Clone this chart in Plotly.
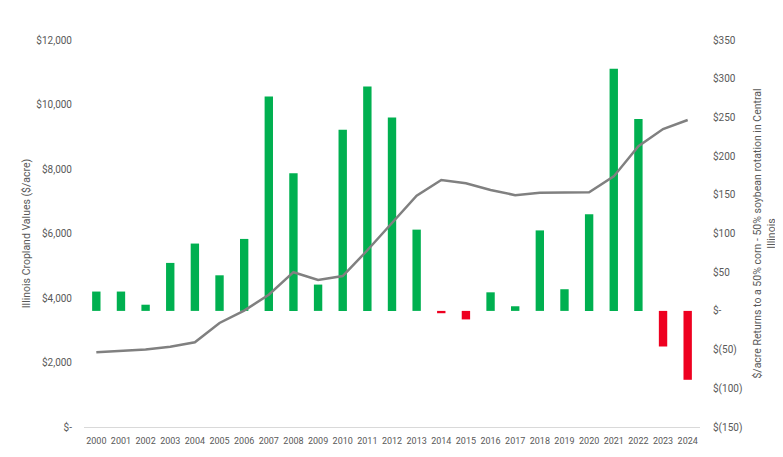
import plotly.graph_objects as go

years = [str(y) for y in range(2000, 2025)]

# Illinois cropland values ($/acre), left axis
land_value = [2320, 2350, 2400, 2490, 2625, 3225, 3610, 4100, 4800, 4560,
              4680, 5480, 6320, 7170, 7660, 7560, 7350, 7190, 7260, 7270,
              7280, 7770, 8710, 9240, 9520]

# $/acre returns to 50% corn - 50% soybean rotation, right axis
returns = [25, 25, 8, 62, 87, 46, 93, 277, 178, 34,
           234, 290, 250, 105, -3, -11, 24, 6, 104, 28,
           125, 313, 248, -46, -89]

left_ticks = [0, 2000, 4000, 6000, 8000, 10000, 12000]
left_text = ["$-", "$2,000", "$4,000", "$6,000", "$8,000", "$10,000", "$12,000"]
right_ticks = [-150, -100, -50, 0, 50, 100, 150, 200, 250, 300, 350]
right_text = ["$(150)", "$(100)", "$(50)", "$-", "$50", "$100", "$150",
              "$200", "$250", "$300", "$350"]

bar_colors = ["#00b050" if v >= 0 else "#ee0020" for v in returns]
txt = "#595959"

fig = go.Figure()

# bars on primary axis (drawn first), line on overlaying axis so it sits on top
fig.add_trace(go.Bar(
    x=years, y=returns, marker_color=bar_colors, marker_line_width=0,
    yaxis="y", showlegend=False,
))
fig.add_trace(go.Scatter(
    x=years, y=land_value, mode="lines",
    line=dict(color="#808080", width=2.5),
    yaxis="y2", showlegend=False,
))

fig.update_layout(
    width=783, height=457,
    margin=dict(l=76, r=91, t=32, b=38),
    paper_bgcolor="white", plot_bgcolor="white",
    font=dict(family="Roboto", size=10, color=txt),
    bargap=0.66,
    xaxis=dict(
        type="category", showgrid=False, showline=True,
        linecolor="#d9d9d9", linewidth=1, ticks="",
        tickangle=0, automargin=False,
        tickfont=dict(size=9, color=txt), ticklabelstandoff=5,
    ),
    yaxis=dict(
        side="right", range=[-150, 350], tickvals=right_ticks,
        ticktext=right_text, showgrid=False, zeroline=False,
        automargin=False, ticklabelstandoff=12,
        tickfont=dict(size=10, color=txt),
        title=dict(
            text="$/acre Returns to a 50% corn - 50% soybean rotation in Central<br>Illinois",
            font=dict(size=10.5, color=txt), standoff=12,
        ),
    ),
    yaxis2=dict(
        side="left", overlaying="y", range=[0, 12000], tickvals=left_ticks,
        ticktext=left_text, showgrid=False, zeroline=False,
        automargin=False, ticklabelstandoff=11,
        tickfont=dict(size=10, color=txt),
        title=dict(text="Illinois Cropland Values ($/acre)",
                   font=dict(size=10.5, color=txt), standoff=3),
    ),
)

fig.write_html("out.html")
